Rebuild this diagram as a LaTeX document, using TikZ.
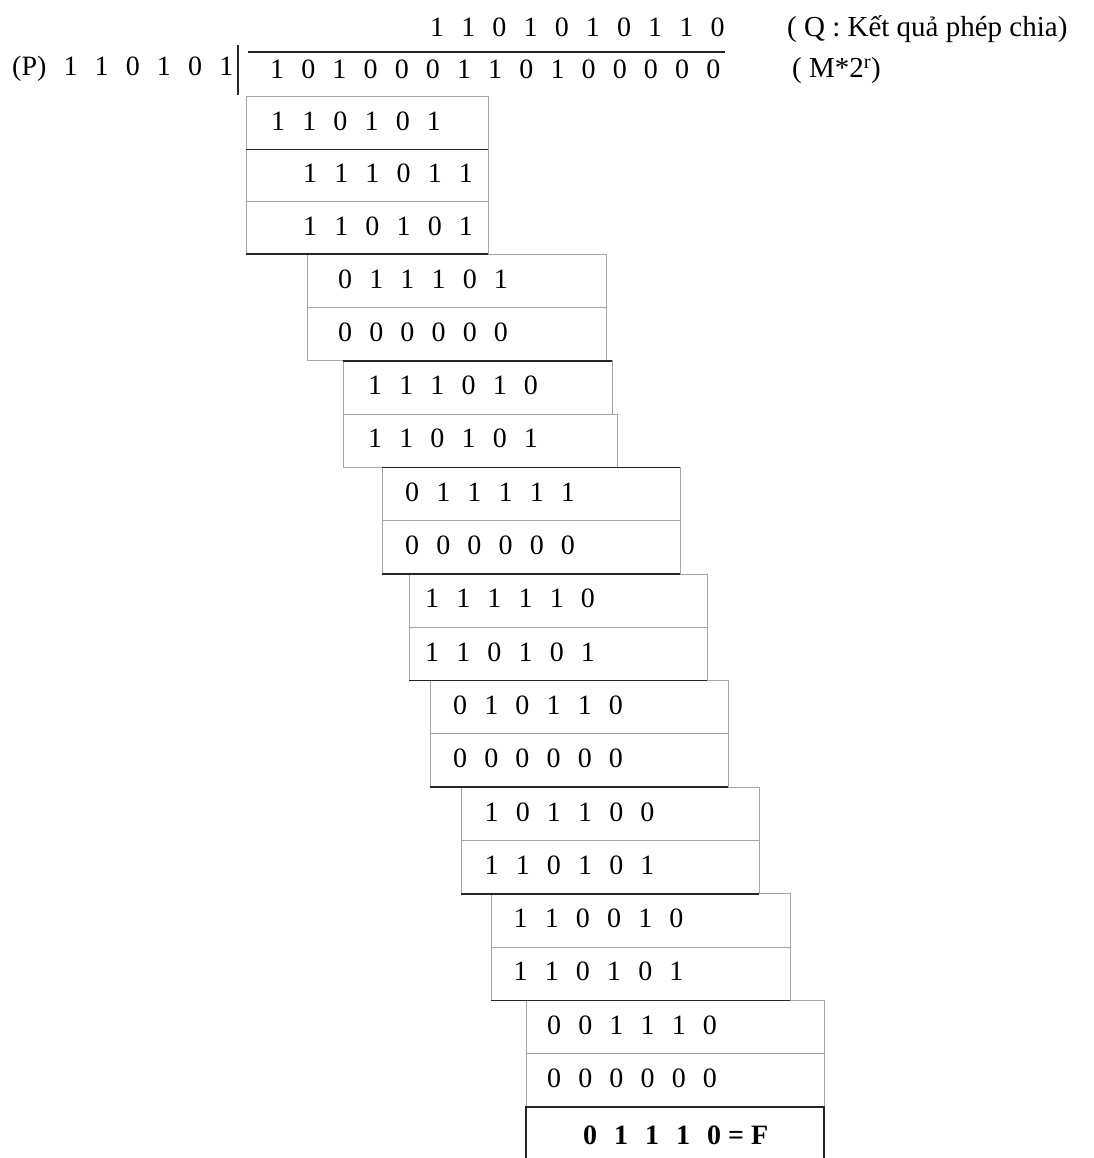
\documentclass[tikz,border=0pt]{standalone}
\usepackage{fontspec}
\setmainfont{Liberation Serif}
\newfontfamily\bitfont{Liberation Serif}[WordSpace=2.45]
\usetikzlibrary{positioning}

\begin{document}
\begin{tikzpicture}[
    x=1pt,y=-1pt,
    font=\fontsize{29}{33}\selectfont,
    cell/.style={
        draw=gray!70,line width=1pt,inner sep=0pt,outer sep=0pt,
        anchor=north west,minimum width=298,minimum height=53.3
    },
    bits/.style={font=\bitfont\fontsize{28}{32}\selectfont,inner sep=0pt,anchor=west,yshift=2pt},
    sepline/.style={draw=black!85,line width=1.6pt},
    result/.style={cell,draw=black!85,line width=1.8pt,minimum height=58},
    note/.style={inner sep=0pt,anchor=west}
]
% pixel grid of the scan, y running down
\path[use as bounding box] (0,0) rectangle (1093,1158);

\node[bits] (quot) at (430,29) {1 1 0 1 0 1 0 1 1 0};
\node[note] (qlabel) at (787,29) {( Q : Kết quả phép chia)};
\node[bits] (divisor) at (12,71) {(P) 1 1 0 1 0 1};
\node[bits] (dividend) at (270,71) {1 0 1 0 0 0 1 1 0 1 0 0 0 0 0};
\node[note] (mlabel) at (792,71) {( M*2\textsuperscript{r})};
\draw[sepline] (248,52) -- (725,52);
\draw[sepline] (238,45) -- (238,95);

% first step: divisor under the leading bits
\node[cell,minimum width=242,minimum height=52.4] (g1a) at (246,97) {};
\node[cell,minimum width=242,minimum height=52.4] (g1b) at (g1a.south west) {};
\node[cell,minimum width=242,minimum height=52.4] (g1c) at (g1b.south west) {};
\node[bits,right=25pt of g1a.west] (t1a) {1 1 0 1 0 1};
\node[bits,right=57pt of g1b.west] (t1b) {1 1 1 0 1 1};
\node[bits,right=57pt of g1c.west] (t1c) {1 1 0 1 0 1};

\node[cell,minimum width=299] (g2a) at (g1c.south -| 307,0) {};
\node[cell,minimum width=299] (g2b) at (g2a.south west) {};
\node[bits,right=31pt of g2a.west] (t2a) {0 1 1 1 0 1};
\node[bits,right=31pt of g2b.west] (t2b) {0 0 0 0 0 0};

\node[cell,minimum width=269] (g3a) at (g2b.south -| 343,0) {};
\node[cell,minimum width=274] (g3b) at (g3a.south west) {};
\node[bits,right=25pt of g3a.west] (t3a) {1 1 1 0 1 0};
\node[bits,right=25pt of g3b.west] (t3b) {1 1 0 1 0 1};

\node[cell] (g4a) at (g3b.south -| 382,0) {};
\node[cell] (g4b) at (g4a.south west) {};
\node[bits,right=23pt of g4a.west] (t4a) {0 1 1 1 1 1};
\node[bits,right=23pt of g4b.west] (t4b) {0 0 0 0 0 0};

\node[cell] (g5a) at (g4b.south -| 409,0) {};
\node[cell] (g5b) at (g5a.south west) {};
\node[bits,right=16pt of g5a.west] (t5a) {1 1 1 1 1 0};
\node[bits,right=16pt of g5b.west] (t5b) {1 1 0 1 0 1};

\node[cell] (g6a) at (g5b.south -| 430,0) {};
\node[cell] (g6b) at (g6a.south west) {};
\node[bits,right=23pt of g6a.west] (t6a) {0 1 0 1 1 0};
\node[bits,right=23pt of g6b.west] (t6b) {0 0 0 0 0 0};

\node[cell] (g7a) at (g6b.south -| 461,0) {};
\node[cell] (g7b) at (g7a.south west) {};
\node[bits,right=23.5pt of g7a.west] (t7a) {1 0 1 1 0 0};
\node[bits,right=23.5pt of g7b.west] (t7b) {1 1 0 1 0 1};

\node[cell,minimum width=299] (g8a) at (g7b.south -| 491,0) {};
\node[cell,minimum width=299] (g8b) at (g8a.south west) {};
\node[bits,right=22.5pt of g8a.west] (t8a) {1 1 0 0 1 0};
\node[bits,right=22.5pt of g8b.west] (t8b) {1 1 0 1 0 1};

\node[cell] (g9a) at (g8b.south -| 526,0) {};
\node[cell] (g9b) at (g9a.south west) {};
\node[bits,right=21pt of g9a.west] (t9a) {0 0 1 1 1 0};
\node[bits,right=21pt of g9b.west] (t9b) {0 0 0 0 0 0};

% remainder
\node[result] (rest) at (g9b.south west) {};
\node[bits,font=\fontsize{28}{32}\selectfont\bfseries,right=57pt of rest.west,yshift=-1pt] (trest)
    {0\hspace{17pt}1\hspace{17pt}1\hspace{17pt}1\hspace{17pt}0 = F};

% subtraction rules, drawn over the grey frames
\draw[sepline] (g1a.south west) -- (g1a.south east);
\draw[sepline] (g1c.south west) -- (g1c.south east);
\draw[sepline] (g3a.north west) -- (g3a.north east);
\draw[sepline] (g4a.north west) -- (g4a.north east);
\draw[sepline] (g4b.south west) -- (g4b.south east);
\draw[sepline] (g5b.south west) -- (g5b.south east);
\draw[sepline] (g6b.south west) -- (g6b.south east);
\draw[sepline] (g7b.south west) -- (g7b.south east);
\draw[sepline] (g8b.south west) -- (g8b.south east);
\end{tikzpicture}
\end{document}
